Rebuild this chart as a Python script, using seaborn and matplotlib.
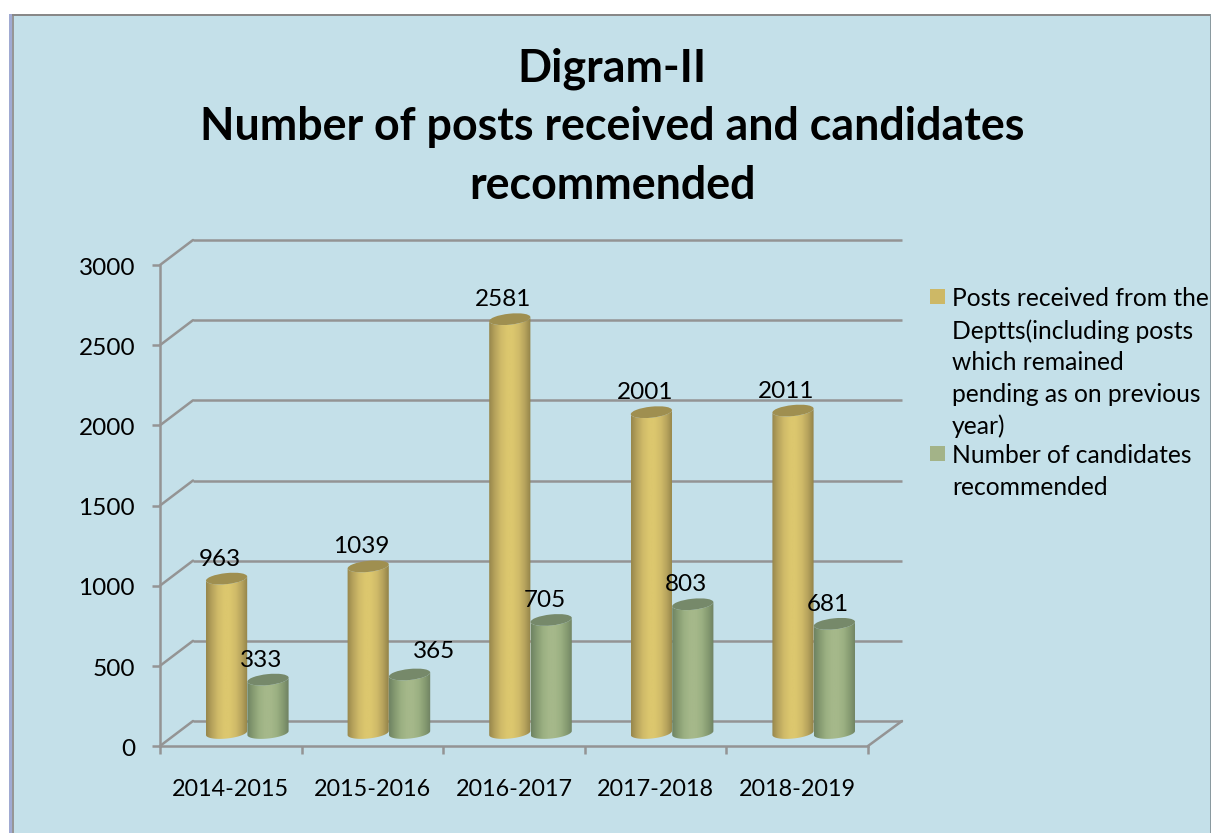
import numpy as np
import pandas as pd
import matplotlib
matplotlib.use("Agg")
import matplotlib.pyplot as plt
from matplotlib.colors import LinearSegmentedColormap
from matplotlib.patches import ConnectionPatch, Ellipse, Rectangle
from matplotlib.transforms import ScaledTranslation
import seaborn as sns

# --- data ---
years = ["2014-2015", "2015-2016", "2016-2017", "2017-2018", "2018-2019"]
posts = [963, 1039, 2581, 2001, 2011]
candidates = [333, 365, 705, 803, 681]
series_names = ["Posts received", "Candidates"]
y_ticks = [0, 500, 1000, 1500, 2000, 2500, 3000]
title = "Digram-II\nNumber of posts received and candidates\nrecommended"
legend_posts = ("Posts received from the\nDeptts(including posts\nwhich remained\n"
                "pending as on previous\nyear)")
legend_candidates = "Number of candidates\nrecommended"

W, H = 1211, 833
BG = "#c4e0e9"
GREY = "#949494"
TILT = 6  # degrees, cylinder caps lean up to the right
CAP_A, CAP_B = 20.7, 5.5  # cap half axes in pixels

sns.set_theme(style="white")
plt.rcParams["font.family"] = ["Lato", "DejaVu Sans"]

df = pd.DataFrame({
    "year": years * 2,
    "value": posts + candidates,
    "series": [series_names[0]] * 5 + [series_names[1]] * 5,
})


def fx(px):
    return px / W


def fy(py):
    return 1 - py / H


def box(left, top, right, bottom):
    return [fx(left), fy(bottom), fx(right - left), fy(top) - fy(bottom)]


fig = plt.figure(figsize=(W / 100, H / 100), dpi=100, facecolor="white")

# page frame
for rect, col in [((14, 16, W - 14, H - 16), BG),
                  ((9, 14, 3, H - 14), "#a0aad2"),
                  ((12, 14, 2, H - 14), "#969696"),
                  ((12, 14, W - 12, 2), "#888888"),
                  ((W - 1, 14, 1, H - 14), "#8a9aa0")]:
    fig.add_artist(Rectangle((fx(rect[0]), fy(rect[1] + rect[3])), fx(rect[2]), rect[3] / H,
                             transform=fig.transFigure, facecolor=col, edgecolor="none", zorder=-2))

fig.text(fx(612), fy(127), title, ha="center", va="center", fontsize=32.2,
         fontweight="bold", linespacing=1.49, color="black")

# three layers: back wall lines, front axis, bars half way through the depth
back = fig.add_axes(box(193, 240, 902, 721), facecolor="none")
front = fig.add_axes(box(160, 265, 868, 746), facecolor="none")
bars = fig.add_axes(box(176.5, 252, 884.5, 733), facecolor="none")

for a in (back, front, bars):
    a.set_xlim(-0.5, 4.5)
    a.set_ylim(0, 3000)

back.axis("off")
back.hlines(y_ticks, -0.5, 4.5, color=GREY, lw=1.8, clip_on=False)
for v in y_ticks:
    fig.add_artist(ConnectionPatch((-0.5, v), (-0.5, v), "data", "data", axesA=front, axesB=back,
                                   color=GREY, lw=1.8, zorder=-1))
fig.add_artist(ConnectionPatch((4.5, 0), (4.5, 0), "data", "data", axesA=front, axesB=back,
                               color=GREY, lw=1.8, zorder=-1))

sns.despine(ax=front)
for s in ("left", "bottom"):
    front.spines[s].set_color(GREY)
    front.spines[s].set_linewidth(1.8)
front.set_yticks(y_ticks)
front.set_xticks(np.arange(-0.5, 5, 1))
front.set_xticklabels([])
front.set_xticks(range(5), labels=years, minor=True)
front.tick_params(axis="both", which="major", length=6, width=1.8, color=GREY, left=True, bottom=True)
front.tick_params(axis="y", labelsize=17.6, pad=12, labelcolor="black")
front.tick_params(axis="x", which="minor", length=0, labelsize=16.8, pad=24, labelcolor="black")
nudge = ScaledTranslation(0, -1.2 / 100, fig.dpi_scale_trans)
for lab in front.get_yticklabels():
    lab.set_transform(lab.get_transform() + nudge)

# bars
sns.barplot(data=df, x="year", y="value", hue="series", order=years, hue_order=series_names,
            palette=["#d6c06a", "#a3b688"], width=0.585, gap=0, legend=False, ax=bars)
bars.set_xlim(-0.5, 4.5)
bars.set_ylim(0, 3000)
bars.axis("off")

yellow = LinearSegmentedColormap.from_list("y", ["#97874c", "#b8a45d", "#d0bb69", "#dcc76e", "#dcc76e",
                                                 "#d0bb69", "#b8a45d", "#938349"])
green = LinearSegmentedColormap.from_list("g", ["#6f8463", "#879c72", "#9bb082", "#a5b88a", "#a5b88a",
                                                "#9bb082", "#879c72", "#6f8262"])
styles = [(yellow, "#9f8f50"), (green, "#76896a")]

dx = 1 / 141.6
dy = 3000 / 481
t = np.linspace(np.pi, 2 * np.pi, 40)
c, s = np.cos(np.radians(TILT)), np.sin(np.radians(TILT))
arc_x = (CAP_A * np.cos(t) * c - CAP_B * np.sin(t) * s) * dx
arc_y = (CAP_A * np.cos(t) * s + CAP_B * np.sin(t) * c) * dy
grad = np.linspace(0, 1, 64).reshape(1, -1)

for container, (cmap, cap) in zip(bars.containers, styles):
    for p in container:
        x0, w, h = p.get_x(), p.get_width(), p.get_height()
        xc = x0 + w / 2
        im = bars.imshow(grad, cmap=cmap, aspect="auto", extent=(x0, x0 + w, -100, h + 100),
                         zorder=p.get_zorder() + 0.1)
        verts = np.column_stack([np.r_[xc + arc_x, xc + arc_x[::-1]],
                                 np.r_[arc_y, h + arc_y[::-1]]])
        clip = plt.Polygon(verts, closed=True, transform=bars.transData)
        im.set_clip_box(fig.bbox)  # the rounded foot hangs below the axes
        im.set_clip_path(clip)
        p.set_visible(False)
        bars.add_patch(Ellipse((0, 0), 2 * CAP_A / 100, 2 * CAP_B / 100, angle=TILT, facecolor=cap,
                               edgecolor="none", zorder=p.get_zorder() + 0.2, clip_on=False,
                               transform=fig.dpi_scale_trans + ScaledTranslation(xc, h, bars.transData)))
        off = (24, 23) if h == 365 else (-6.5, 19.5)
        bars.annotate(f"{int(h)}", (xc, h), xytext=(off[0] * 0.72, off[1] * 0.72), textcoords="offset points",
                      ha="center", va="center", fontsize=17.5, color="black", zorder=5)
bars.set_xlim(-0.5, 4.5)
bars.set_ylim(0, 3000)

# legend, written out because the swatches sit on the first text line
for label, col, top, ty in [(legend_posts, "#cdb866", 289, 287.5), (legend_candidates, "#a3b388", 446, 444)]:
    fig.add_artist(Rectangle((fx(930), fy(top + 15)), 15 / W, 15 / H, transform=fig.transFigure,
                             facecolor=col, edgecolor="none", zorder=-1))
    fig.text(fx(952), fy(ty), label, ha="left", va="top", fontsize=17.7, linespacing=1.45, color="black")

fig.savefig("out.png", dpi=100, facecolor="white")
